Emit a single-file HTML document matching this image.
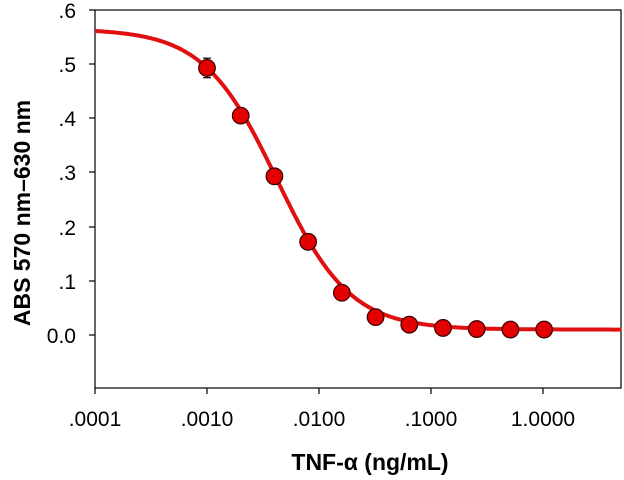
<!DOCTYPE html>
<html><head><meta charset="utf-8"><style>
html,body{margin:0;padding:0;background:#fff;}
svg{display:block;}
text{font-family:"Liberation Sans",sans-serif;fill:#000;}
</style></head><body>
<svg id="s" width="624" height="480" viewBox="0 0 624 480" xmlns="http://www.w3.org/2000/svg">
<rect x="95" y="10" width="526" height="378" fill="none" stroke="#000" stroke-width="1.2"/>
<g stroke="#000" stroke-width="1.2">
<line x1="89" y1="10" x2="95" y2="10"/><line x1="89" y1="64" x2="95" y2="64"/>
<line x1="89" y1="118" x2="95" y2="118"/><line x1="89" y1="172" x2="95" y2="172"/>
<line x1="89" y1="227" x2="95" y2="227"/><line x1="89" y1="281" x2="95" y2="281"/>
<line x1="89" y1="335" x2="95" y2="335"/>
<line x1="95" y1="388" x2="95" y2="394"/><line x1="207" y1="388" x2="207" y2="394"/>
<line x1="319" y1="388" x2="319" y2="394"/><line x1="431" y1="388" x2="431" y2="394"/>
<line x1="543" y1="388" x2="543" y2="394"/>
</g>
<g font-size="21" text-anchor="end">
<text x="76" y="18">.6</text><text x="76" y="72">.5</text><text x="76" y="126">.4</text>
<text x="76" y="180">.3</text><text x="76" y="235">.2</text><text x="76" y="289">.1</text>
<text x="76" y="343">0.0</text>
</g>
<g font-size="21" text-anchor="middle">
<text x="95" y="426">.0001</text><text x="207" y="426">.0010</text><text x="319" y="426">.0100</text>
<text x="431" y="426">.1000</text><text x="543" y="426">1.0000</text>
</g>
<text x="370" y="470" font-size="23" font-weight="bold" text-anchor="middle">TNF-α (ng/mL)</text>
<text transform="translate(30,213) rotate(-90)" font-size="23" font-weight="bold" text-anchor="middle">ABS 570 nm–630 nm</text>
<path id="curve" fill="none" stroke="#e01010" stroke-width="4"/>
<g id="pts"></g>
</svg>
<script>
function X(v){return 95+112*(Math.log10(v)+4);}
function Y(v){return 335-v*541.7;}
function f(x){return 0.01+0.555/(1+Math.pow(x/0.0042,1.33));}
var d="";
for(var i=0;i<=300;i++){var lx=-4+4.7*i/300;var x=Math.pow(10,lx);d+=(i?"L":"M")+X(x).toFixed(1)+","+Y(f(x)).toFixed(1);}
document.getElementById("curve").setAttribute("d",d);
var ys=[.493,.405,.293,.172,.078,.033,.019,.013,.011,.010,.010];
var err=[.018,.012,.006,.012,.005,0,0,0,0,0,0];
var g=document.getElementById("pts"),h="";
for(var i=0;i<11;i++){var x=X(0.001*Math.pow(2,i)),y=Y(ys[i]);
if(err[i]){var e=err[i]*541.7;h+='<line x1="'+x+'" x2="'+x+'" y1="'+(y-e)+'" y2="'+(y+e)+'" stroke="#000" stroke-width="1.2"/>'+
'<line x1="'+(x-4)+'" x2="'+(x+4)+'" y1="'+(y-e)+'" y2="'+(y-e)+'" stroke="#000" stroke-width="1.2"/>'+
'<line x1="'+(x-4)+'" x2="'+(x+4)+'" y1="'+(y+e)+'" y2="'+(y+e)+'" stroke="#000" stroke-width="1.2"/>';}
h+='<circle cx="'+x+'" cy="'+y+'" r="8.3" fill="#e30000" stroke="#3a0000" stroke-width="1.2"/>';}
g.innerHTML=h;
</script>
</body></html>
